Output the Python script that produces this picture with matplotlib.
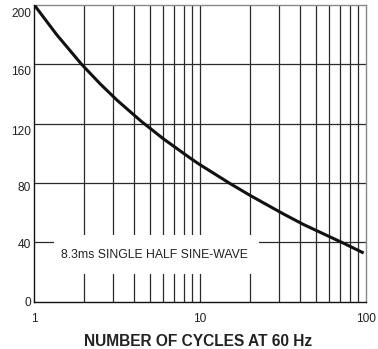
import matplotlib
matplotlib.use("Agg")
import matplotlib.pyplot as plt
from matplotlib.patches import Rectangle
from matplotlib.transforms import ScaledTranslation

# data
cycles = [1.0, 1.365, 1.93, 2.5, 3.16, 4.42, 6.01, 8.73, 9.79, 15.1, 20.1, 31.7, 42.2, 73.6, 97.2]
current = [200, 180, 160, 146.8, 135.8, 121.6, 109.8, 96.8, 93.0, 79.8, 71.6, 59.3, 52.0, 39.4, 32.8]
y_ticks = [0, 40, 80, 120, 160, 200]
x_ticks = [1, 10, 100]
x_tick_labels = ["1", "10", "100"]
x_minor = [2, 3, 4, 5, 6, 7, 8, 9, 20, 30, 40, 50, 60, 70, 80, 90]
annotation = "8.3ms SINGLE HALF SINE-WAVE"
xlabel = "NUMBER OF CYCLES AT 60 Hz"

plt.rcParams['font.family'] = ['Liberation Sans', 'DejaVu Sans']

fig = plt.figure(figsize=(3.78, 3.49), dpi=100)
ax = fig.add_axes([34.3/378, 1-301.7/349, (365.7-34.3)/378, (301.7-5)/349])
ax.set_xscale('log')
ax.set_xlim(1, 100)
ax.set_ylim(0, 200)

grid_kw = dict(color='#2a2a2a', lw=0.9, zorder=1)
for v in y_ticks[1:-1]:
    ax.axhline(v, **grid_kw)
for v in x_minor + [10]:
    ax.axvline(v, **grid_kw)

ax.add_patch(Rectangle((0.0594, 0.0934), 0.6186, 0.1314, transform=ax.transAxes,
                       facecolor='white', edgecolor='none', zorder=2))
ax.text(0.364, 0.159, annotation, transform=ax.transAxes, ha='center', va='center',
        fontsize=8.85, color='#222222', zorder=3)

ax.plot(cycles, current, color='#111111', lw=2.2, zorder=4, solid_capstyle='butt',
        solid_joinstyle='round')

ax.set_yticks(y_ticks)
ax.set_yticklabels([str(v) for v in y_ticks])
ax.set_xticks(x_ticks)
ax.set_xticklabels(x_tick_labels)
ax.xaxis.set_minor_locator(matplotlib.ticker.NullLocator())
ax.tick_params(axis='both', length=0, labelsize=8.6, colors='#222222')
ax.tick_params(axis='y', pad=2.5)
ax.tick_params(axis='x', pad=8)

offs = [0, 1, 3.7, 6.7, 6, 7.5]
for lab, o in zip(ax.get_yticklabels(), offs):
    lab.set_transform(lab.get_transform() + ScaledTranslation(0, -o/100, fig.dpi_scale_trans))

for s in ['left', 'bottom']:
    ax.spines[s].set_color('#111111')
    ax.spines[s].set_linewidth(1.0)
for s in ['top', 'right']:
    ax.spines[s].set_color('#888888')
    ax.spines[s].set_linewidth(1.0)

fig.text(198/378, 1-342/349, xlabel, ha='center', va='center', fontsize=11.2,
         fontweight='bold', color='#222222')

fig.savefig('out.png', dpi=100)
